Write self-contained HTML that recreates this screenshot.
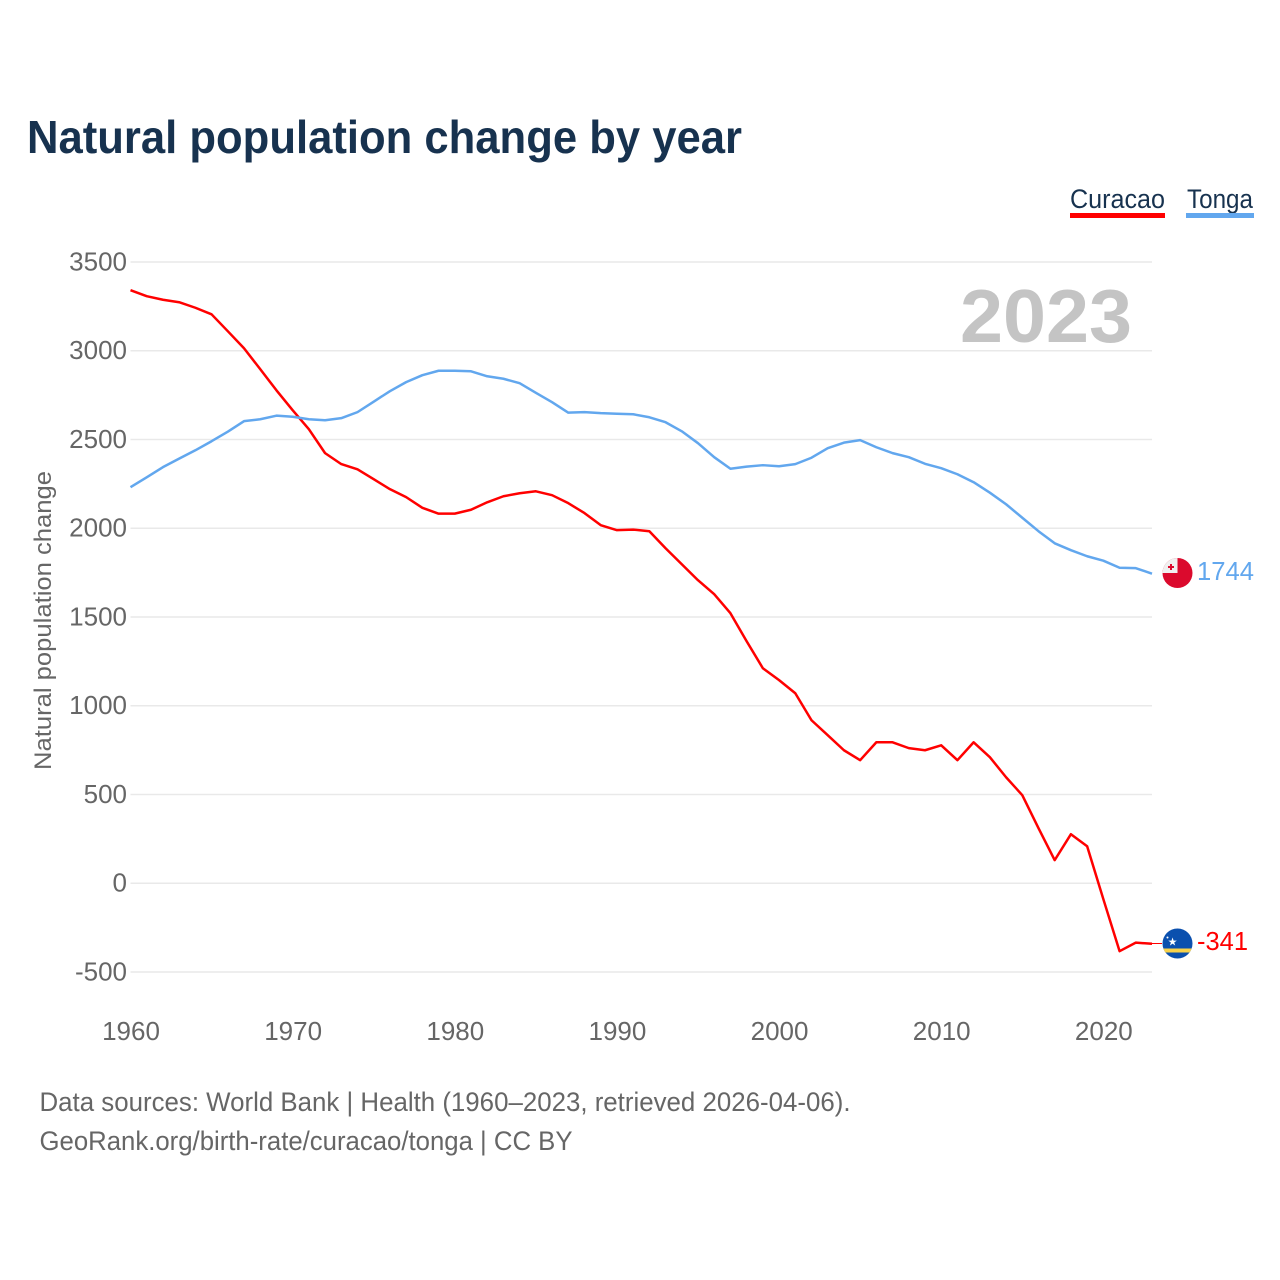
<!DOCTYPE html>
<html lang="en">
<head>
<meta charset="utf-8">
<title>Natural population change by year</title>
<style>
html,body{margin:0;padding:0;background:#fff;width:1280px;height:1280px;overflow:hidden}
svg{display:block;font-family:"Liberation Sans",Arial,sans-serif}
</style>
</head>
<body>
<svg id="chart" xmlns="http://www.w3.org/2000/svg" width="1280" height="1280" viewBox="0 0 1280 1280">
  <rect x="0" y="0" width="1280" height="1280" fill="#ffffff"/>
  <text x="27" y="153" font-size="46" font-weight="700" fill="#17324f" textLength="715" lengthAdjust="spacingAndGlyphs">Natural population change by year</text>

  <g id="grid"></g>
  <g id="yticks"></g>
  <g id="xticks"></g>

  <text x="960" y="342" font-size="75" font-weight="700" fill="#c4c4c4" textLength="172" lengthAdjust="spacingAndGlyphs">2023</text>

  <text transform="translate(51,770) rotate(-90)" font-size="24.500" fill="#666666" textLength="299" lengthAdjust="spacingAndGlyphs">Natural population change</text>

  <g id="series"></g>

  <g>
    <text x="1070" y="208" font-size="27" fill="#17324f" textLength="95" lengthAdjust="spacingAndGlyphs">Curacao</text>
    <rect x="1070" y="213" width="95" height="5" fill="#ff0000"/>
  </g>
  <g>
    <text x="1187" y="208" font-size="27" fill="#17324f" textLength="66" lengthAdjust="spacingAndGlyphs">Tonga</text>
    <rect x="1186" y="213" width="68" height="5" fill="#62a7ee"/>
  </g>

  <defs>
    <clipPath id="clip-tonga"><circle cx="1177.500" cy="573" r="15"/></clipPath>
    <clipPath id="clip-curacao"><circle cx="1177.500" cy="943.500" r="15"/></clipPath>
  </defs>

  <line x1="1152" y1="943.500" x2="1162" y2="943.500" stroke="#ff0000" stroke-width="1"/>

  <g clip-path="url(#clip-tonga)">
    <rect x="1162" y="557" width="31" height="32" fill="#db0a2d"/>
    <rect x="1162" y="557" width="15.500" height="16" fill="#f0f0f0"/>
    <rect x="1168" y="566" width="6" height="2" fill="#db0a2d"/>
    <rect x="1170" y="564" width="2" height="6" fill="#db0a2d"/>
  </g>

  <g clip-path="url(#clip-curacao)">
    <rect x="1162" y="928" width="31" height="32" fill="#0b50ae"/>
    <rect x="1162" y="948.500" width="31" height="4" fill="#f8d24a"/>
    <text x="1172.500" y="945.500" font-size="11" fill="#ffffff" text-anchor="middle">★</text>
    <circle cx="1167.500" cy="937.500" r="1" fill="#ffffff"/>
  </g>

  <text x="1197" y="580" font-size="26" fill="#62a7ee" textLength="57" lengthAdjust="spacingAndGlyphs">1744</text>
  <text x="1197" y="950" font-size="26" fill="#ff0000" textLength="51" lengthAdjust="spacingAndGlyphs">-341</text>

  <text x="39.500" y="1111" font-size="26.500" fill="#666666" textLength="811" lengthAdjust="spacingAndGlyphs">Data sources: World Bank | Health (1960–2023, retrieved 2026-04-06).</text>
  <text x="39.500" y="1150" font-size="26.500" fill="#666666" textLength="533" lengthAdjust="spacingAndGlyphs">GeoRank.org/birth-rate/curacao/tonga | CC BY</text>
</svg>

<script>
const firstYear = 1960;
const lastYear = 2023;
const yTickValues = [3500, 3000, 2500, 2000, 1500, 1000, 500, 0, -500];
const xTickValues = [1960, 1970, 1980, 1990, 2000, 2010, 2020];
const curacaoValues = [3341, 3307, 3287, 3273, 3242, 3205, 3110, 3014, 2896, 2777, 2665, 2558, 2423, 2361, 2332, 2276, 2220, 2175, 2115, 2082, 2082, 2104, 2146, 2180, 2197, 2208, 2186, 2141, 2085, 2017, 1989, 1992, 1983, 1887, 1797, 1707, 1628, 1521, 1363, 1211, 1144, 1070, 918, 834, 749, 693, 794, 794, 761, 749, 777, 693, 794, 710, 597, 496, 310, 130, 276, 208, -90, -383, -335, -341];
const tongaValues = [2231, 2287, 2344, 2392, 2439, 2490, 2544, 2603, 2614, 2634, 2628, 2614, 2608, 2620, 2654, 2713, 2772, 2823, 2862, 2887, 2887, 2884, 2856, 2842, 2817, 2763, 2710, 2651, 2654, 2648, 2645, 2642, 2625, 2597, 2546, 2479, 2400, 2335, 2347, 2355, 2349, 2361, 2397, 2451, 2482, 2496, 2456, 2423, 2400, 2363, 2338, 2304, 2259, 2200, 2135, 2059, 1983, 1915, 1876, 1842, 1817, 1777, 1775, 1744];

const NS = 'http://www.w3.org/2000/svg';
const plotLeft = 130.5;
const plotRight = 1152;
const zeroY = 883.2;
const pxPerUnit = 0.1775;

function xScale(year) {
  return plotLeft + (year - firstYear) * (plotRight - plotLeft) / (lastYear - firstYear);
}
function yScale(value) {
  return zeroY - value * pxPerUnit;
}

const gridGroup = document.getElementById('grid');
const yTickGroup = document.getElementById('yticks');
const xTickGroup = document.getElementById('xticks');
const seriesGroup = document.getElementById('series');

yTickValues.forEach(function (value) {
  const line = document.createElementNS(NS, 'line');
  
  
  line.setAttribute('x1', plotLeft);
  line.setAttribute('x2', plotRight);
  line.setAttribute('y1', yScale(value));
  line.setAttribute('y2', yScale(value));
  line.setAttribute('stroke', '#e9e9e9');
  line.setAttribute('stroke-width', '1.5');
  gridGroup.appendChild(line);

  const label = document.createElementNS(NS, 'text');
  
  
  label.setAttribute('x', 127);
  label.setAttribute('y', yScale(value) + 8.5);
  label.setAttribute('text-anchor', 'end');
  label.setAttribute('font-size', '26');
  label.setAttribute('fill', '#666666');
  label.textContent = String(value);
  yTickGroup.appendChild(label);
});

xTickValues.forEach(function (year) {
  const label = document.createElementNS(NS, 'text');
  
  
  label.setAttribute('x', xScale(year) + 0.5);
  label.setAttribute('y', 1040);
  label.setAttribute('text-anchor', 'middle');
  label.setAttribute('font-size', '26');
  label.setAttribute('fill', '#666666');
  label.textContent = String(year);
  xTickGroup.appendChild(label);
});

function pointsFor(values) {
  return values.map(function (value, i) {
    return xScale(firstYear + i).toFixed(2) + ',' + yScale(value).toFixed(2);
  }).join(' ');
}

const curacaoLine = document.createElementNS(NS, 'polyline');


curacaoLine.setAttribute('points', pointsFor(curacaoValues));
curacaoLine.setAttribute('fill', 'none');
curacaoLine.setAttribute('stroke', '#ff0000');
curacaoLine.setAttribute('stroke-width', '2.5');
curacaoLine.setAttribute('stroke-linejoin', 'round');
seriesGroup.appendChild(curacaoLine);

const tongaLine = document.createElementNS(NS, 'polyline');


tongaLine.setAttribute('points', pointsFor(tongaValues));
tongaLine.setAttribute('fill', 'none');
tongaLine.setAttribute('stroke', '#62a7ee');
tongaLine.setAttribute('stroke-width', '2.5');
tongaLine.setAttribute('stroke-linejoin', 'round');
seriesGroup.appendChild(tongaLine);
</script>
</body>
</html>
